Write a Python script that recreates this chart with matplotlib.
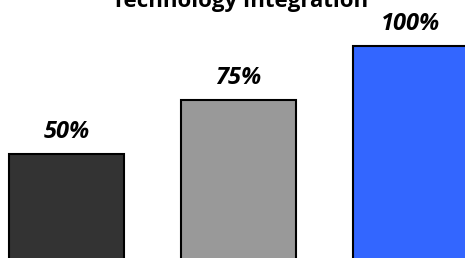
import numpy as np
import matplotlib.pyplot as plt

#Chart data
categories=['A','B','C']
values=[50,75,100]
labels=['50%','75%','100%']
colors=['#333333','#999999','#3366FF']

fig=plt.figure(figsize=(4.65,2.58),dpi=100)
ax=fig.add_axes([0,0,1,1])

x=np.arange(len(values))
ax.bar(x,values,width=0.67,color=colors,edgecolor='black',linewidth=1.5)

#Value labels above bars
for xi,v,l in zip(x,values,labels):
    ax.text(xi,v+7.5,l,ha='center',va='baseline',fontsize=17,
            fontweight='bold',fontstyle='italic',family='Open Sans')

#baseline sits just below the bottom edge, as in the reference
ax.set_xlim(-0.387,2.317)
ax.set_ylim(1.5,121.5)
ax.axis('off')

#Title, partly cut off at top like the reference
fig.text(0.517,1-7/258,'Technology Integration',ha='center',va='baseline',
         fontsize=16,fontweight='bold',family='Open Sans')

plt.savefig('out.png',dpi=100)
